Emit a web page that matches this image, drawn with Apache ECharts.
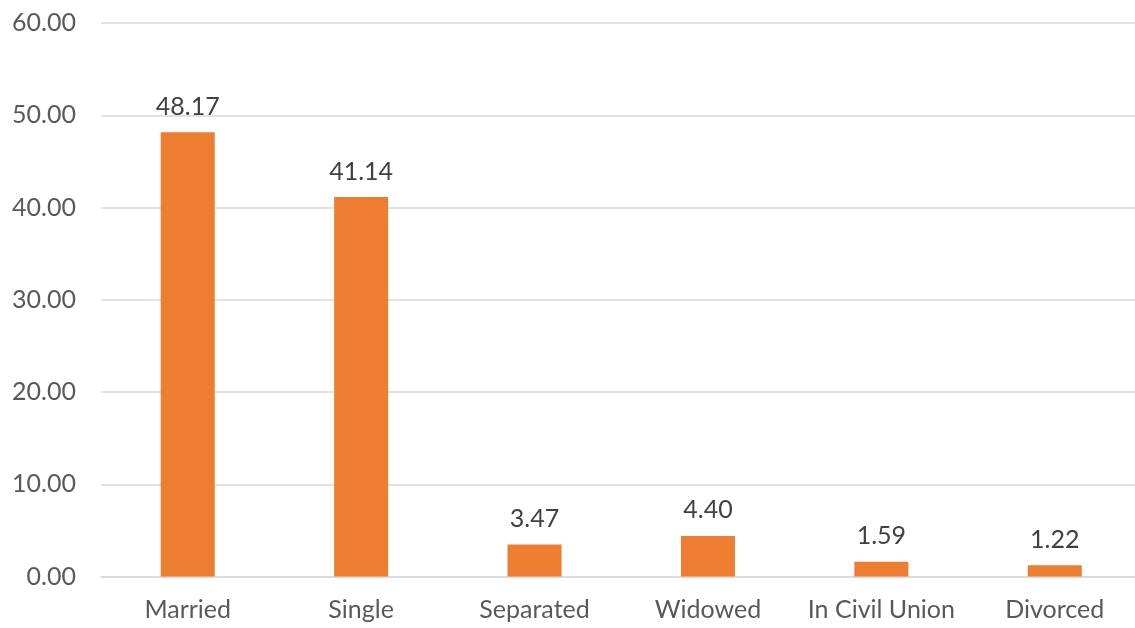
<!DOCTYPE html>
<html>
<head>
<meta charset="utf-8">
<script src="https://cdn.jsdelivr.net/npm/echarts@6/dist/echarts.min.js"></script>
<style>
  html, body { margin: 0; padding: 0; background: #ffffff; overflow: hidden; }
  #chart { width: 1145px; height: 628px; }
</style>
</head>
<body>
<div id="chart"></div>
<script>
// Marital status distribution (%)
const categories = ['Married', 'Single', 'Separated', 'Widowed', 'In Civil Union', 'Divorced'];
const shares = [48.17, 41.14, 3.47, 4.40, 1.59, 1.22];

const FONT = 'Lato, "Open Sans", sans-serif';

const chart = echarts.init(document.getElementById('chart'), null, { renderer: 'canvas' });
chart.setOption({
  animation: false,
  backgroundColor: '#ffffff',
  grid: { left: 101, top: 23, width: 1040.5, height: 553.5, containLabel: false },
  xAxis: {
    type: 'category',
    data: categories,
    axisLine: { show: true, lineStyle: { color: '#d9d9d9', width: 1.5 } },
    axisTick: { show: false },
    axisLabel: { interval: 0, color: '#595959', fontFamily: FONT, fontSize: 25, margin: 21 }
  },
  yAxis: {
    type: 'value',
    min: 0,
    max: 60,
    interval: 10,
    axisLine: { show: false },
    axisTick: { show: false },
    splitLine: { lineStyle: { color: '#d9d9d9', width: 1.5 } },
    axisLabel: {
      color: '#595959', fontFamily: FONT, fontSize: 25, margin: 25,
      formatter: v => v.toFixed(2)
    }
  },
  series: [{
    type: 'bar',
    data: shares,
    barWidth: 54,
    itemStyle: { color: '#ed7d31' },
    label: {
      show: true,
      position: 'top',
      distance: 13,
      color: '#404040',
      fontFamily: FONT,
      fontSize: 25,
      formatter: p => p.value.toFixed(2)
    }
  }]
});
</script>
</body>
</html>
